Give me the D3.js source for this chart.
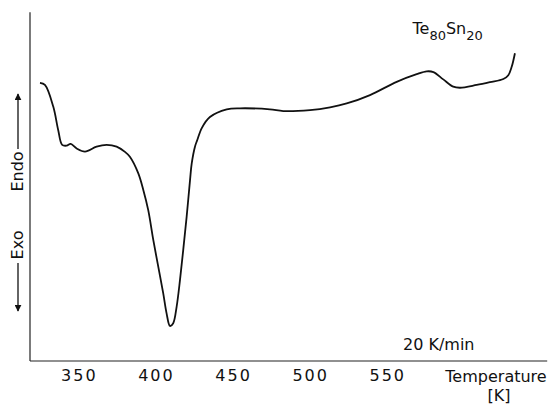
<!DOCTYPE html>
<html lang="en">
<head>
    <meta charset="UTF-8">
    <title>DSC Te80Sn20</title>
    <script src="https://d3js.org/d3.v7.min.js"></script>
    <style>
        body { margin: 0; background: #fff; }
        svg { font-family: "DejaVu Sans", sans-serif; }
    </style>
</head>
<body>
    <script>
        // temperature (K) and heat flow (arb. units)
        const temps = [324.8, 328.0, 333.4, 336.6, 339.2, 342.1, 344.7, 348.6, 354.0, 361.5,
                       368.0, 374.5, 379.9, 383.1, 388.5, 391.8, 395.0, 398.3, 401.5, 404.7,
                       406.9, 409.1, 411.2, 413.4, 415.6, 417.7, 419.9, 422.1, 423.2, 425.3,
                       426.8, 429.8, 435.0, 445.9, 454.5, 473.9, 482.6, 499.9, 512.9, 523.7,
                       538.8, 556.1, 569.1, 575.6, 579.9, 586.3, 592.8, 597.2, 608.0, 616.6,
                       625.3, 628.5, 630.7, 632.8];
        const heatFlow = [79.6, 79.0, 72.8, 66.1, 61.8, 61.6, 62.1, 60.8, 59.9, 61.3,
                          61.8, 61.3, 59.8, 58.4, 53.7, 48.9, 43.1, 34.5, 26.9, 19.3,
                          13.5, 9.9, 10.7, 15.4, 23.1, 31.7, 41.2, 51.7, 56.5, 61.3,
                          63.2, 66.7, 69.8, 72.0, 72.3, 72.0, 71.5, 71.8, 72.6, 73.7,
                          76.1, 79.9, 82.1, 82.9, 82.7, 80.6, 78.5, 78.2, 79.0, 79.8,
                          80.7, 81.8, 84.2, 88.1];
        const xTicks = [350, 400, 450, 500, 550];

        const w = 554;
        const h = 404;

        const x = d3.scaleLinear().domain([318, 653.4]).range([29.5, 546.7]);
        const y = d3.scaleLinear().domain([0, 100]).range([360.5, 11.7]);

        const svg = d3.select("body")
                      .append("svg")
                      .attr("width", w)
                      .attr("height", h);

        // axes: plain lines, labels only on x
        const xAxis = svg.append("g")
           .attr("transform", "translate(0," + y(0) + ")")
           .call(d3.axisBottom(x).tickValues(xTicks).tickSize(0).tickSizeOuter(0).tickPadding(9));
        xAxis.selectAll("text")
             .attr("font-size", 16)
             .attr("font-family", "DejaVu Sans")
             .attr("letter-spacing", "2px")
             .attr("fill", "#111");

        svg.append("g")
           .attr("transform", "translate(" + x(318) + ",0)")
           .call(d3.axisLeft(y).tickValues([]).tickSizeOuter(0));

        svg.selectAll(".domain").attr("stroke", "#222").attr("stroke-width", 1.2);

        const line = d3.line()
                       .x((d, i) => x(temps[i]))
                       .y((d) => y(d))
                       .curve(d3.curveCatmullRom.alpha(0.5));

        svg.append("path")
           .datum(heatFlow)
           .attr("fill", "none")
           .attr("stroke", "#111")
           .attr("stroke-width", 1.8)
           .attr("d", line);

        // axis title
        svg.append("text").attr("x", 496).attr("y", 381.5)
           .attr("text-anchor", "middle").attr("font-size", 16).attr("fill", "#111")
           .text("Temperature");
        svg.append("text").attr("x", 499).attr("y", 400.5)
           .attr("text-anchor", "middle").attr("font-size", 16).attr("fill", "#111")
           .text("[K]");

        svg.append("text").attr("x", 403).attr("y", 349.5)
           .attr("font-size", 16).attr("fill", "#111")
           .text("20 K/min");

        const sample = svg.append("text").attr("x", 412.5).attr("y", 33.5)
                          .attr("font-size", 16).attr("fill", "#111");
        sample.append("tspan").text("Te");
        sample.append("tspan").attr("font-size", 13).attr("dy", 6).text("80");
        sample.append("tspan").attr("dy", -6).text("Sn");
        sample.append("tspan").attr("font-size", 13).attr("dy", 6).text("20");

        // Endo / Exo direction marks
        svg.append("defs").append("marker")
           .attr("id", "head")
           .attr("viewBox", "0 0 10 10")
           .attr("refX", 9).attr("refY", 5)
           .attr("markerWidth", 7).attr("markerHeight", 7)
           .attr("markerUnits", "userSpaceOnUse")
           .attr("orient", "auto")
           .append("path").attr("d", "M0,0L10,5L0,10Z").attr("fill", "#111");

        svg.append("line").attr("x1", 18).attr("x2", 18).attr("y1", 149).attr("y2", 94)
           .attr("stroke", "#111").attr("stroke-width", 1.3).attr("marker-end", "url(#head)");
        svg.append("line").attr("x1", 18).attr("x2", 18).attr("y1", 263).attr("y2", 311)
           .attr("stroke", "#111").attr("stroke-width", 1.3).attr("marker-end", "url(#head)");

        svg.append("text").attr("transform", "translate(23,171.5) rotate(-90)")
           .attr("text-anchor", "middle").attr("font-size", 16).attr("fill", "#111")
           .text("Endo");
        svg.append("text").attr("transform", "translate(23,245) rotate(-90)")
           .attr("text-anchor", "middle").attr("font-size", 16).attr("fill", "#111")
           .text("Exo");
    </script>
</body>
</html>
